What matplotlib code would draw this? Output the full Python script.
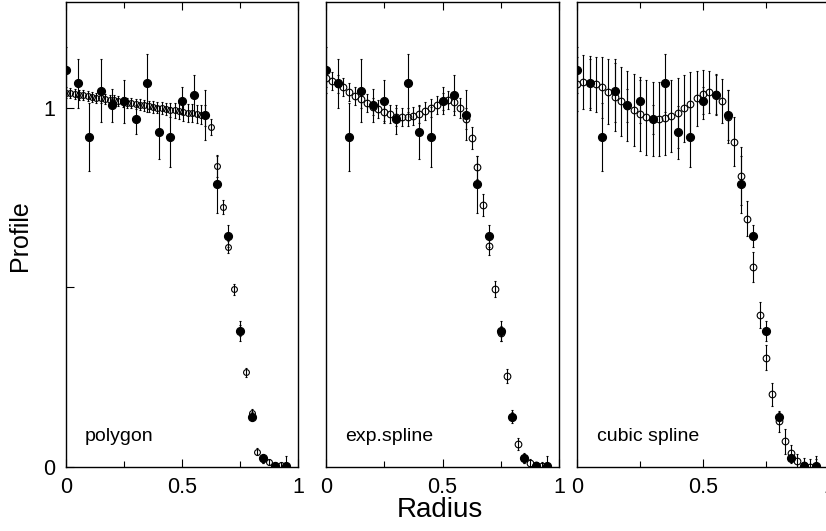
import matplotlib
matplotlib.use('Agg')
import matplotlib.pyplot as plt
from matplotlib.ticker import FixedLocator

plt.rcParams['font.family'] = 'Liberation Sans'

# measured profile (filled points), same in every panel
data_x = [0.00, 0.05, 0.10, 0.15, 0.20, 0.25, 0.30, 0.35, 0.40, 0.45,
          0.50, 0.55, 0.60, 0.65, 0.70, 0.75, 0.80, 0.85, 0.90, 0.95]
data_y = [1.106, 1.069, 0.918, 1.048, 1.008, 1.018, 0.968, 1.070, 0.932, 0.920,
          1.020, 1.035, 0.981, 0.787, 0.643, 0.380, 0.140, 0.024, 0.004, 0.002]
data_err = [0.065, 0.068, 0.095, 0.088, 0.046, 0.060, 0.041, 0.080, 0.074, 0.084,
            0.037, 0.056, 0.070, 0.079, 0.030, 0.028, 0.012, 0.012, 0.010, 0.030]

# polygon model
poly_x = [0.0, 0.01875, 0.0375, 0.05625, 0.075, 0.09375, 0.1125, 0.13125, 0.15,
          0.16875, 0.1875, 0.20625, 0.225, 0.24375, 0.2625, 0.28125, 0.3,
          0.31875, 0.3375, 0.35625, 0.375, 0.39375, 0.4125, 0.43125, 0.45,
          0.46875, 0.4875, 0.50625, 0.525, 0.54375, 0.5625, 0.58125, 0.6,
          0.625, 0.65, 0.675, 0.70, 0.725, 0.75, 0.775, 0.80, 0.825, 0.85,
          0.875, 0.90, 0.925, 0.95]
poly_y = [1.043, 1.041, 1.039, 1.037, 1.035, 1.033, 1.031, 1.029, 1.027,
          1.025, 1.023, 1.021, 1.019, 1.017, 1.015, 1.013, 1.011,
          1.009, 1.007, 1.005, 1.003, 1.001, 0.999, 0.997, 0.995,
          0.993, 0.991, 0.989, 0.987, 0.985, 0.983, 0.981, 0.979,
          0.948, 0.839, 0.724, 0.613, 0.495, 0.380, 0.264, 0.150, 0.043, 0.022,
          0.013, 0.006, 0.006, 0.002]
poly_err = [0.014, 0.014, 0.014, 0.014, 0.014, 0.014, 0.014, 0.014, 0.014,
            0.014, 0.014, 0.014, 0.014, 0.014, 0.014, 0.014, 0.015,
            0.015, 0.015, 0.015, 0.016, 0.016, 0.017, 0.018, 0.020,
            0.022, 0.023, 0.024, 0.025, 0.025, 0.026, 0.027, 0.030,
            0.022, 0.030, 0.020, 0.016, 0.015, 0.015, 0.012, 0.012, 0.010, 0.010,
            0.008, 0.008, 0.008, 0.008]

# exponential spline and cubic spline models share the same grid
spl_x = [0.0, 0.025, 0.05, 0.075, 0.10, 0.125, 0.15, 0.175, 0.20, 0.225,
         0.25, 0.275, 0.30, 0.325, 0.35, 0.375, 0.40, 0.425, 0.45, 0.475,
         0.50, 0.525, 0.55, 0.575, 0.60, 0.625, 0.65, 0.675, 0.70, 0.725,
         0.75, 0.775, 0.80, 0.825, 0.85, 0.875, 0.90, 0.925, 0.95]
exp_y = [1.084, 1.076, 1.067, 1.057, 1.045, 1.034, 1.024, 1.013, 1.004, 0.996,
         0.990, 0.982, 0.976, 0.974, 0.975, 0.978, 0.984, 0.992, 1.001, 1.009,
         1.018, 1.022, 1.016, 0.999, 0.970, 0.917, 0.835, 0.730, 0.616, 0.496,
         0.372, 0.253, 0.140, 0.064, 0.025, 0.010, 0.005, 0.003, 0.002]
exp_err = [0.025, 0.025, 0.025, 0.025, 0.025, 0.025, 0.025, 0.025, 0.025, 0.025,
           0.025, 0.025, 0.025, 0.025, 0.025, 0.025, 0.025, 0.025, 0.025, 0.025,
           0.025, 0.025, 0.025, 0.028, 0.030, 0.030, 0.032, 0.030, 0.025, 0.022,
           0.022, 0.020, 0.018, 0.018, 0.015, 0.012, 0.010, 0.010, 0.010]
cub_y = [1.066, 1.072, 1.070, 1.066, 1.057, 1.045, 1.031, 1.018, 1.006, 0.994,
         0.983, 0.974, 0.969, 0.969, 0.973, 0.978, 0.986, 0.999, 1.012, 1.027,
         1.038, 1.045, 1.039, 1.020, 0.976, 0.906, 0.811, 0.691, 0.558, 0.423,
         0.304, 0.203, 0.127, 0.072, 0.039, 0.017, 0.006, 0.001, 0.001]
cub_err = [0.075, 0.075, 0.076, 0.077, 0.085, 0.090, 0.094, 0.097, 0.098, 0.100,
           0.102, 0.104, 0.104, 0.104, 0.103, 0.100, 0.098, 0.093, 0.088, 0.077,
           0.068, 0.059, 0.056, 0.061, 0.075, 0.069, 0.080, 0.049, 0.042, 0.037,
           0.035, 0.032, 0.030, 0.035, 0.023, 0.020, 0.020, 0.020, 0.020]

labels = ['polygon', 'exp.spline', 'cubic spline']
models = [(poly_x, poly_y, poly_err), (spl_x, exp_y, exp_err), (spl_x, cub_y, cub_err)]
open_sizes = [4.2, 4.8, 4.8]

fig = plt.figure(figsize=(8.26, 5.31), dpi=100)
positions = [[0.0799, 0.1205, 0.2809, 0.8757],
             [0.3947, 0.1205, 0.2821, 0.8757],
             [0.6985, 0.1205, 0.3051, 0.8757]]

for i, (pos, label, (mx, my, me)) in enumerate(zip(positions, labels, models)):
    ax = fig.add_axes(pos)
    ax.errorbar(mx, my, yerr=me, fmt='o', ms=open_sizes[i], mfc='none', mec='black',
                mew=0.8, ecolor='black', elinewidth=0.8, capsize=0.8, capthick=0.8,
                zorder=2)
    ax.errorbar(data_x, data_y, yerr=data_err, fmt='o', ms=5.6, mfc='black', mec='black',
                ecolor='black', elinewidth=0.8, capsize=0.6, capthick=0.8, zorder=3)
    ax.set_xlim(0, 1)
    ax.set_ylim(0, 1.295)
    ax.xaxis.set_major_locator(FixedLocator([0, 0.5, 1]))
    ax.xaxis.set_minor_locator(FixedLocator([0.25, 0.75]))
    ax.set_xticklabels(['0', '0.5', '1'])
    ax.tick_params(axis='x', which='both', direction='in', top=True, labelsize=15.5, pad=7)
    ax.tick_params(axis='x', which='major', length=6, width=0.8)
    ax.tick_params(axis='x', which='minor', length=4, width=0.8)
    if i == 0:
        ax.yaxis.set_major_locator(FixedLocator([0, 1]))
        ax.yaxis.set_minor_locator(FixedLocator([0.5]))
        ax.set_yticklabels(['0', '1'])
        ax.tick_params(axis='y', which='both', direction='in', right=False,
                       labelsize=15.5, pad=8)
        ax.tick_params(axis='y', which='major', length=6, width=0.8)
        ax.tick_params(axis='y', which='minor', length=6, width=0.8)
    else:
        ax.set_yticks([])
    for s in ax.spines.values():
        s.set_linewidth(1.0)
    ax.text(0.08, 0.084, label, fontsize=14, va='center', ha='left')
    ax.patch.set_alpha(0)

fig.text(0.533, 0.04, 'Radius', fontsize=20, ha='center', va='center')
fig.text(0.024, 0.557, 'Profile', fontsize=18, rotation=90, ha='center', va='center')

fig.savefig('out.png', dpi=100)
